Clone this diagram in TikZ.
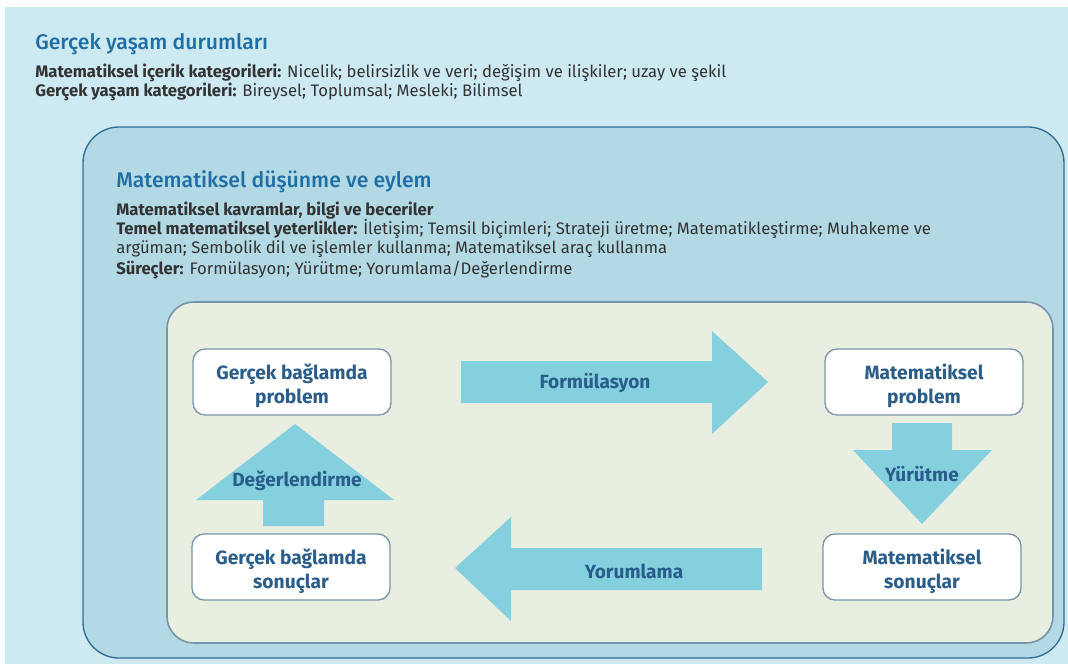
\documentclass[tikz,border=0pt]{standalone}
\usepackage{fontspec}
\setmainfont{Fira Sans}
\newfontfamily\headfont{Fira Sans Medium}
\definecolor{bgouter}{HTML}{CDEAF2}
\definecolor{bgmid}{HTML}{B3D9E4}
\definecolor{bginner}{HTML}{E8EFE0}
\definecolor{edgemid}{HTML}{2E6E95}
\definecolor{edgeinner}{HTML}{7894AA}
\definecolor{titleblue}{HTML}{1F6FA6}
\definecolor{boxtext}{HTML}{2A5D8A}
\definecolor{arrowfill}{HTML}{84D0DF}
\definecolor{bodytext}{HTML}{333333}
\tikzset{
  heading/.style={anchor=base west, inner sep=0pt, text=titleblue, font=\headfont\fontsize{15.9}{18}\selectfont},
  bodyline/.style={anchor=base west, inner sep=0pt, text=bodytext, font=\fontsize{12.5}{13}\selectfont},
  stagebox/.style={draw=edgeinner, line width=1pt, fill=white, rounded corners=9pt,
    minimum width=148.5pt, minimum height=49.5pt, inner sep=0pt},
  stagetext/.style={align=center, text=boxtext, inner sep=0pt,
    font=\fontsize{14.4}{18}\selectfont\bfseries},
  blockarrow/.style={fill=arrowfill, draw=none},
  arrowlabel/.style={text=boxtext, font=\fontsize{14.3}{15}\selectfont\bfseries, inner sep=0pt}
}
\begin{document}
\begin{tikzpicture}[x=0.75pt,y=-0.75pt]
\useasboundingbox (0,0) rectangle (1068,664);
\fill[white] (0,0) rectangle (1068,664);
% outer layer: real-life situations
\fill[bgouter] (5,7) rectangle (1068,664);
\node[heading] (t1) at (35,49) {Gerçek yaşam durumları};
\node[bodyline] (l1) at (35,77) {\textbf{Matematiksel içerik kategorileri:} Nicelik; belirsizlik ve veri; değişim ve ilişkiler; uzay ve şekil};
\node[bodyline] (l2) at (35,96) {\textbf{Gerçek yaşam kategorileri:} Bireysel; Toplumsal; Mesleki; Bilimsel};
% middle layer: mathematical thinking and action
\draw[edgemid, fill=bgmid, line width=1pt, rounded corners=27pt] (83,127) rectangle (1064,658);
\node[heading] (t2) at (116,187) {Matematiksel düşünme ve eylem};
\node[bodyline] (m1) at (116,215) {\textbf{Matematiksel kavramlar, bilgi ve beceriler}};
\node[bodyline] (m2) at (116,234) {\textbf{Temel matematiksel yeterlikler:} İletişim; Temsil biçimleri; Strateji üretme; Matematikleştirme; Muhakeme ve};
\node[bodyline] (m3) at (116,253) {argüman; Sembolik dil ve işlemler kullanma; Matematiksel araç kullanma};
\node[bodyline] (m4) at (116,274) {\textbf{Süreçler:} Formülasyon; Yürütme; Yorumlama/Değerlendirme};
% inner layer: the modelling cycle
\draw[edgeinner, fill=bginner, line width=1.2pt, rounded corners=20pt] (167,302) rectangle (1053,643);
\node[stagebox] (rp) at (292,382) {};
\node[stagebox] (rs) at (291,567) {};
\node[stagebox] (mp) at (924,382) {};
\node[stagebox] (ms) at (922,567) {};
\node[stagetext] (rpt) at ([yshift=-3pt]rp.center) {Gerçek bağlamda\\problem};
\node[stagetext] (rst) at ([yshift=-3pt]rs.center) {Gerçek bağlamda\\sonuçlar};
\node[stagetext] (mpt) at ([yshift=-3pt]mp.center) {Matematiksel\\problem};
\node[stagetext] (mst) at ([yshift=-3pt]ms.center) {Matematiksel\\sonuçlar};
% Formülasyon (right)
\fill[blockarrow] (461,361) -- (712,361) -- (712,331) -- (768,382) -- (712,434) -- (712,403) -- (461,403) -- cycle;
\node[arrowlabel] (fa) at (595,383) {Formülasyon};
% Yürütme (down)
\fill[blockarrow] (892,423) -- (952,423) -- (952,450) -- (992,450) -- (922,524) -- (853,450) -- (892,450) -- cycle;
\node[arrowlabel] (ya) at (922,474) {Yürütme};
% Yorumlama (left)
\fill[blockarrow] (762,548) -- (511,548) -- (511,517) -- (455,568) -- (511,621) -- (511,590) -- (762,590) -- cycle;
\node[arrowlabel] (yo) at (634,571) {Yorumlama};
% Değerlendirme (up)
\fill[blockarrow] (263,526) -- (324,526) -- (324,500) -- (394,500) -- (295,424) -- (196,500) -- (263,500) -- cycle;
\node[arrowlabel] (da) at (297,481) {Değerlendirme};
\end{tikzpicture}
\end{document}
